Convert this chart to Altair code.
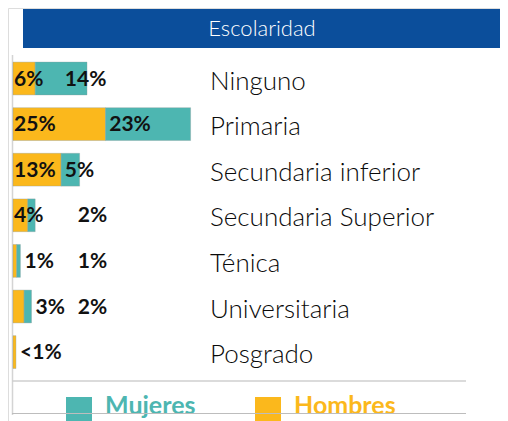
import altair as alt
import pandas as pd

categories = ["Ninguno", "Primaria", "Secundaria inferior", "Secundaria Superior",
              "Ténica", "Universitaria", "Posgrado"]
hombres = [6, 25, 13, 4, 1, 3, 0.8]
mujeres = [14, 23, 5, 2, 1, 2, 0]
hombres_labels = ["6%", "25%", "13%", "4%", "1%", "3%", "<1%"]
mujeres_labels = ["14%", "23%", "5%", "2%", "1%", "2%", ""]

TEAL = "#4db6b1"
GOLD = "#fbb81c"
BLUE = "#0b4e9b"
FONT = "Lato"

bar_rows = []
lab_rows = []
for c, h, m, hl, ml in zip(categories, hombres, mujeres, hombres_labels, mujeres_labels):
    bar_rows.append({"cat": c, "serie": "Hombres", "start": 0, "end": h})
    if m > 0:
        bar_rows.append({"cat": c, "serie": "Mujeres", "start": h, "end": h + m})
    total = h + m
    hx = 0.3 if total >= 6 else total + 1.1
    lab_rows.append({"cat": c, "pos": hx, "txt": hl})
    if ml:
        mx = h + 1 if h > 12 else (14 if total >= 10 else 17.5)
        lab_rows.append({"cat": c, "pos": mx, "txt": ml})

bars_df = pd.DataFrame(bar_rows)
labs_df = pd.DataFrame(lab_rows)
cats_df = pd.DataFrame({"cat": categories})

xscale = alt.Scale(domain=[0, 100], range=[5, 375])
yscale = alt.Scale(domain=categories, range=[47.7, 366.9], paddingInner=0.28, paddingOuter=0.14)
Y = alt.Y("cat:N", scale=yscale, axis=None, sort=categories)

bars = alt.Chart(bars_df).mark_bar(stroke="#8a9a9a", strokeWidth=0.6, strokeOpacity=0.6).encode(
    x=alt.X("start:Q", scale=xscale, axis=None),
    x2="end:Q",
    y=Y,
    color=alt.Color("serie:N", scale=alt.Scale(domain=["Mujeres", "Hombres"], range=[TEAL, GOLD]), legend=None),
)

pct = alt.Chart(labs_df).mark_text(align="left", baseline="middle", font=FONT, fontWeight="bold",
                                   fontSize=21, color="#111111", dy=1).encode(
    x=alt.X("pos:Q", scale=xscale, axis=None),
    y=Y,
    text="txt:N",
)

catlab = alt.Chart(cats_df).mark_text(align="left", baseline="middle", font=FONT, fontSize=26,
                                      fontWeight=300, color="#0a0a0a", dy=3).encode(
    x=alt.value(202),
    y=Y,
    text="cat:N",
)

one = alt.Data(values=[{"a": 1}])

banner = alt.Chart(one).mark_rect(color=BLUE).encode(
    x=alt.value(15), x2=alt.value(492), y=alt.value(1), y2=alt.value(40))
banner_txt = alt.Chart(one).mark_text(text="Escolaridad", font=FONT, fontSize=22, fontWeight=300,
                                      color="white", align="center", baseline="middle").encode(
    x=alt.value(254), y=alt.value(21))

left_line = alt.Chart(one).mark_rule(color="#d4d4d4", strokeWidth=1.5).encode(
    x=alt.value(4.5), y=alt.value(47), y2=alt.value(407))
top_line = alt.Chart(one).mark_rule(color="#cfcfcf", strokeWidth=1.5).encode(
    x=alt.value(4), x2=alt.value(458), y=alt.value(373))
bot_line = alt.Chart(one).mark_rule(color="#bdbdbd", strokeWidth=1).encode(
    x=alt.value(4), x2=alt.value(458), y=alt.value(405.5))

sq_m = alt.Chart(one).mark_rect(color=TEAL, clip=True).encode(
    x=alt.value(58), x2=alt.value(84), y=alt.value(389), y2=alt.value(416))
sq_h = alt.Chart(one).mark_rect(color=GOLD, clip=True).encode(
    x=alt.value(247), x2=alt.value(273), y=alt.value(389), y2=alt.value(416))
txt_m = alt.Chart(one).mark_text(text="Mujeres", font=FONT, fontSize=25, fontWeight="bold",
                                 color=TEAL, align="left", baseline="alphabetic").encode(
    x=alt.value(97), y=alt.value(406))
txt_h = alt.Chart(one).mark_text(text="Hombres", font=FONT, fontSize=25, fontWeight="bold",
                                 color=GOLD, align="left", baseline="alphabetic").encode(
    x=alt.value(286), y=alt.value(406))

chart = alt.layer(
    banner, banner_txt, left_line, top_line, bars, pct, catlab, sq_m, sq_h, txt_m, txt_h, bot_line
).properties(
    width=492, height=413,
    autosize=alt.AutoSizeParams(type="none"),
    padding=0,
).configure_view(stroke=None).configure(background="white")

chart.save("out.html", embed_options={"renderer": "svg", "actions": False})
